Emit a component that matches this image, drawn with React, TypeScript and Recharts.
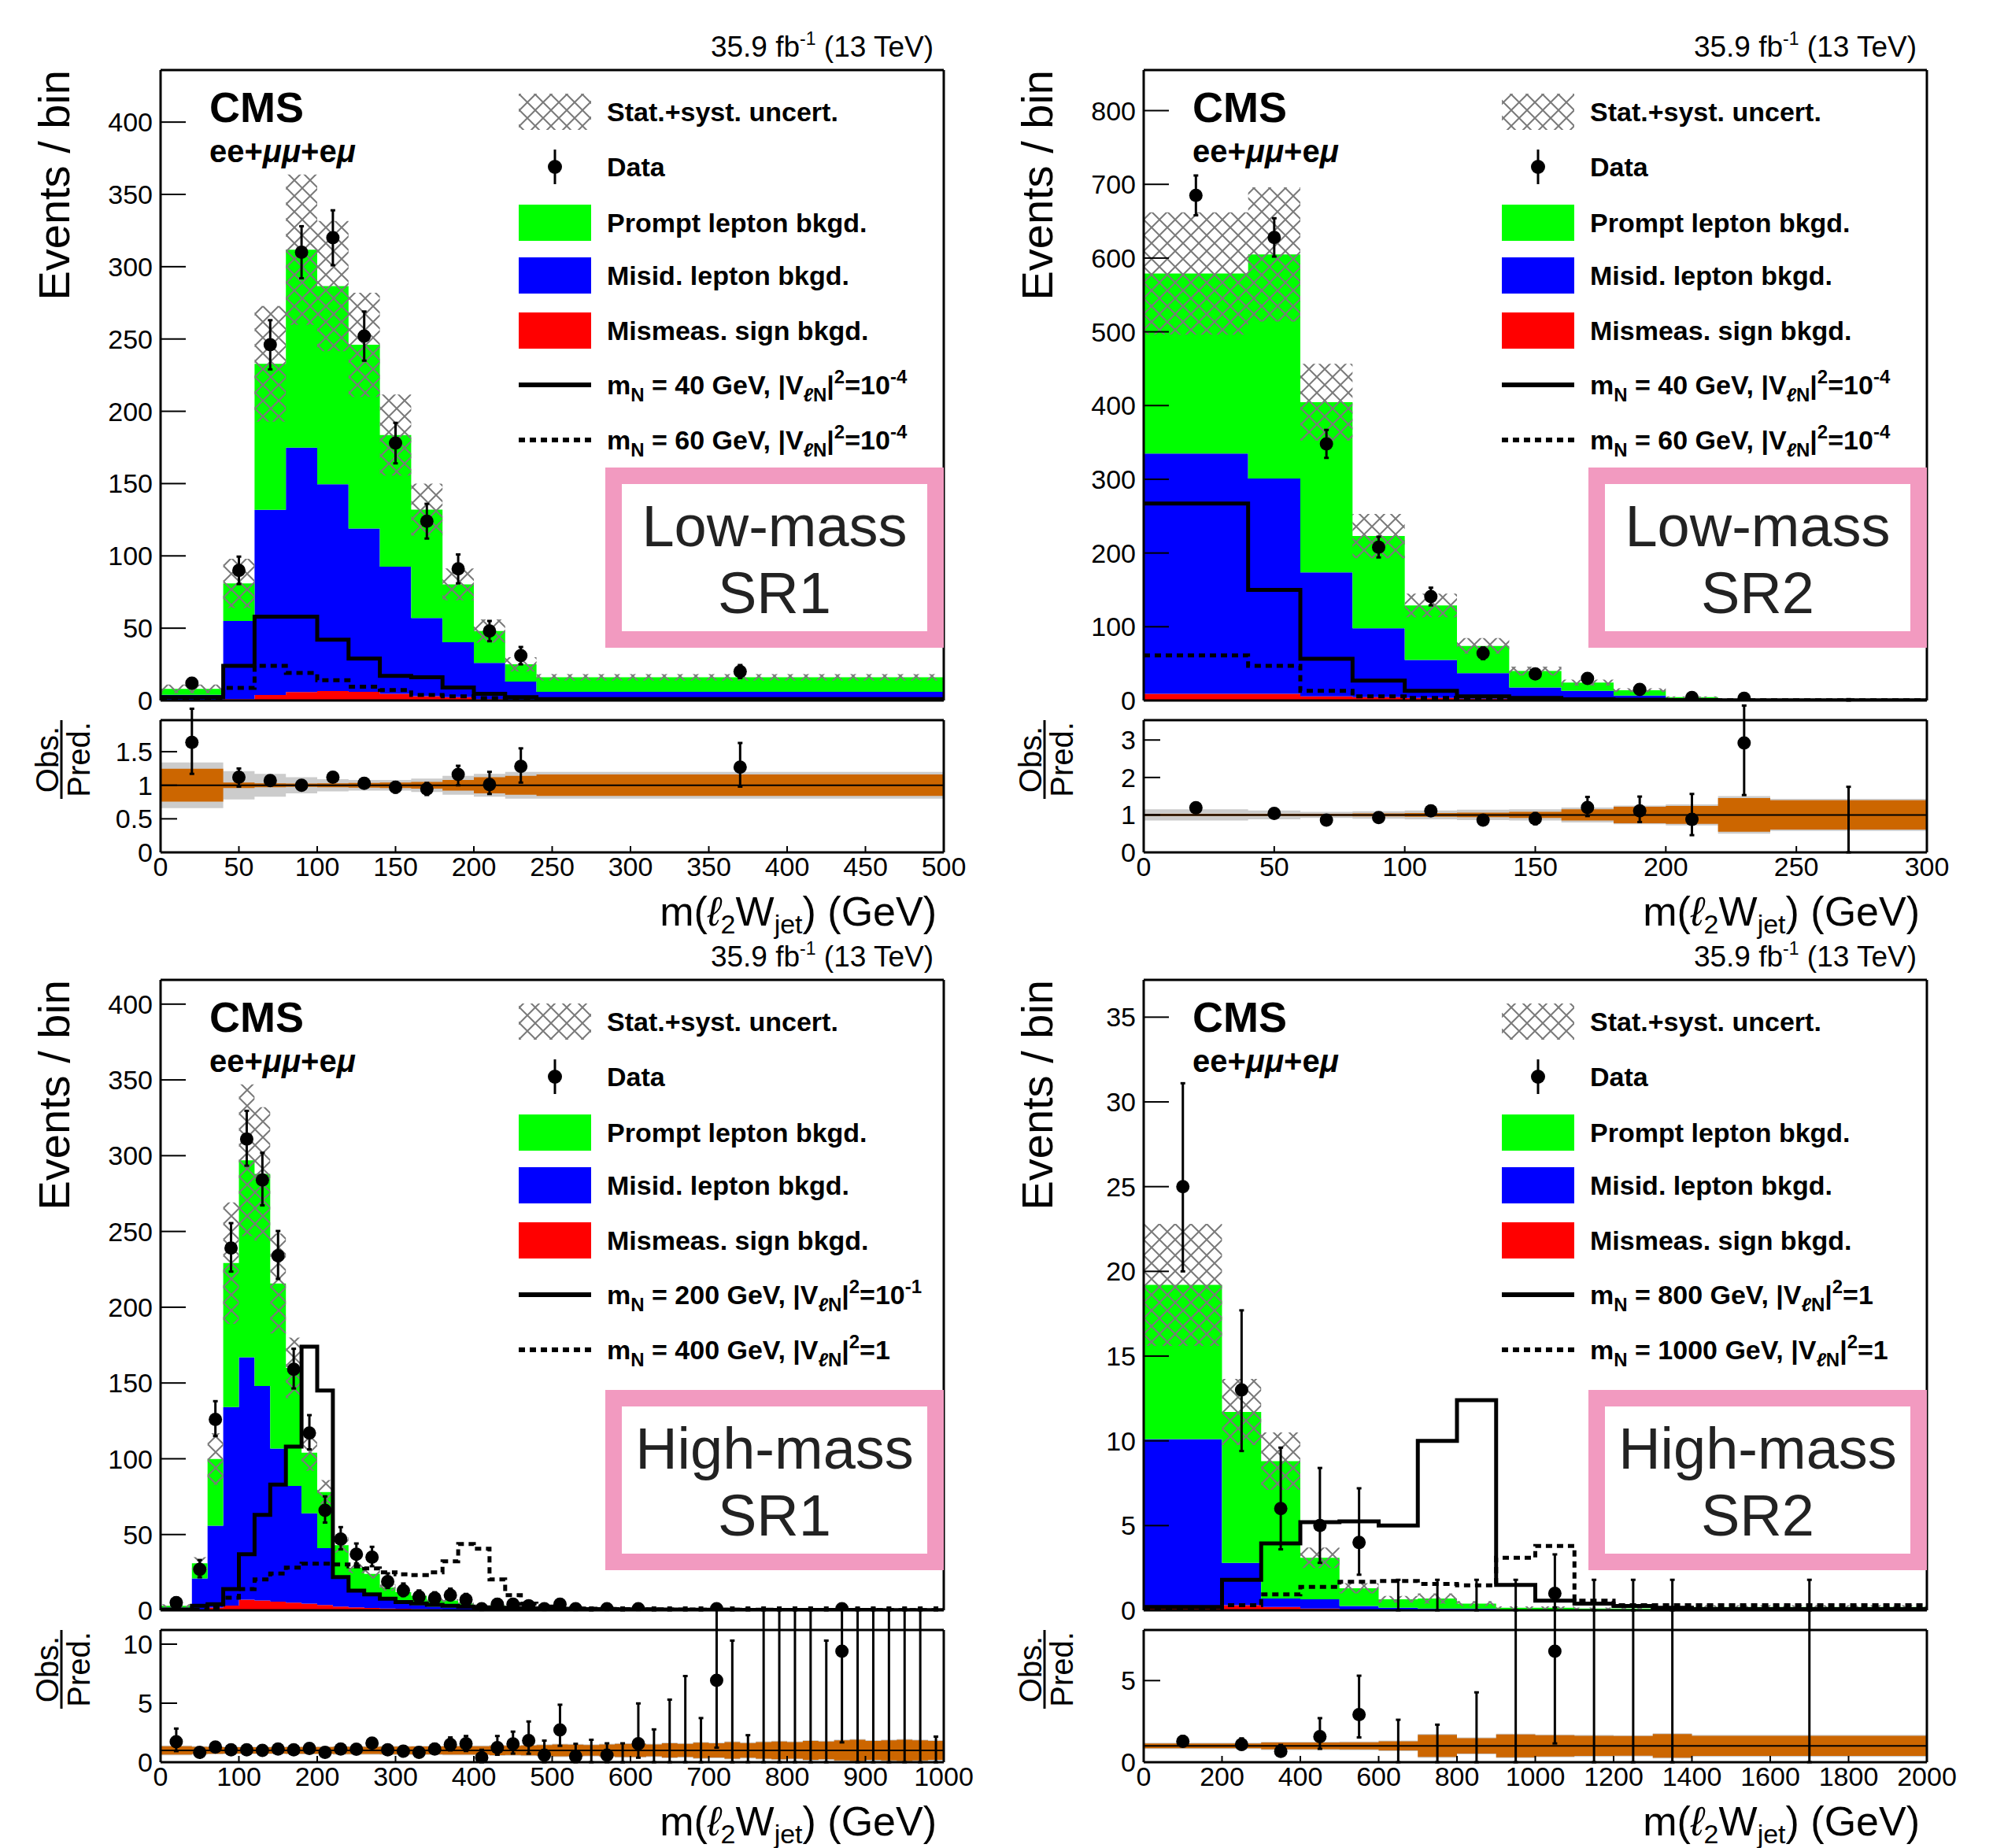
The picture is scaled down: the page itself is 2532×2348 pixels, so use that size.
import React from "react";
import { ComposedChart, Area, Line, Scatter, ErrorBar, XAxis, YAxis, ReferenceLine } from "recharts";

const SANS = "'Liberation Sans', Arial, Helvetica, sans-serif";

// ---------- Low-mass SR1 ----------
const lm1Edges = [0, 40, 60, 80, 100, 120, 140, 160, 180, 200, 220, 240, 500];
const lm1Red = [0.5, 1, 3.8, 5.8, 6.6, 6, 4.6, 3, 2.3, 1, 0.5, 0.5];
const lm1Blue = [3.5, 54, 128, 169, 143, 113, 88, 54, 38, 25, 12.5, 5.5];
const lm1Green = [4, 26, 101, 137, 137, 127, 91, 75, 40, 22, 12, 10];
const lm1Unc = [3, 17, 40, 52, 45, 36, 28, 18, 11, 8, 5, 2.2];
const lm1Sig1 = [2.3, 24, 58, 58, 42, 29, 17, 16, 9, 4.6, 2.3, 1];
const lm1Sig2 = [1, 8.7, 24, 19, 14, 9.5, 7.2, 3.8, 2.9, 1.7, 1, 0.5];
const lm1DataX = [20, 50, 70, 90, 110, 130, 150, 170, 190, 210, 230, 370];
const lm1Data = [12, 90, 246, 310, 320, 252, 178, 124, 91, 48, 31, 20];
const lm1DataErr = [3.5, 9.5, 17, 18, 19, 17, 14, 12, 10, 7, 6, 4.5];
const lm1Ratio = [1.64, 1.12, 1.07, 1.0, 1.12, 1.03, 0.97, 0.945, 1.16, 1.01, 1.28, 1.27];
const lm1RatioLo = [0.47, 0.14, 0.07, 0.06, 0.07, 0.07, 0.08, 0.09, 0.16, 0.14, 0.24, 0.29];
const lm1RatioHi = [0.5, 0.13, 0.07, 0.06, 0.07, 0.07, 0.08, 0.09, 0.13, 0.19, 0.27, 0.36];
const lm1Orange = [0.245, 0.04, 0.03, 0.025, 0.03, 0.035, 0.04, 0.05, 0.08, 0.12, 0.14, 0.16];
const lm1Gray = [0.34, 0.21, 0.17, 0.12, 0.09, 0.08, 0.08, 0.1, 0.14, 0.17, 0.2, 0.2];
const lm1XTicks = [0, 50, 100, 150, 200, 250, 300, 350, 400, 450, 500];
const lm1YTicks = [0, 50, 100, 150, 200, 250, 300, 350, 400];
const lm1RTicks = [0, 0.5, 1, 1.5];

// ---------- Low-mass SR2 ----------
const lm2Edges = [0, 40, 60, 80, 100, 120, 140, 160, 180, 200, 220, 240, 300];
const lm2Red = [9, 9, 5.6, 4.5, 3.4, 2.3, 1, 0.8, 0.5, 0.3, 0.1, 0.1];
const lm2Blue = [326, 292, 168, 93.5, 51.6, 34.7, 16.5, 12.2, 6.3, 2, 0.4, 0.2];
const lm2Green = [244, 304, 231, 125, 74, 37, 22.5, 11.3, 7.2, 2.2, 0.7, 0.5];
const lm2Unc = [83, 91, 52, 30, 16, 10.5, 6, 4, 2.5, 1, 0.5, 0.3];
const lm2Sig1 = [267, 150, 56.5, 27, 13, 5.6, 3.4, 1.7, 1, 0.6, 0.4, 0.3];
const lm2Sig2 = [61, 47, 13, 5.6, 3.4, 2.3, 1.5, 0.8, 0.6, 0.4, 0.3, 0.2];
const lm2DataX = [20, 50, 70, 90, 110, 130, 150, 170, 190, 210, 230, 270];
const lm2Data = [685, 628, 348, 208, 141, 64, 36, 30, 15, 4, 3, 0];
const lm2DataLo = [27, 26, 19, 14, 12, 8, 6, 5.5, 3.8, 1.9, 1.6, 0];
const lm2DataHi = [27, 26, 19, 14, 12, 8, 6, 5.5, 4.9, 3.2, 2.9, 1.8];
const lm2Ratio = [1.19, 1.04, 0.86, 0.93, 1.11, 0.86, 0.9, 1.2, 1.11, 0.88, 2.92, 0];
const lm2RatioLo = [0.05, 0.05, 0.05, 0.07, 0.09, 0.11, 0.15, 0.23, 0.3, 0.42, 1.39, 0];
const lm2RatioHi = [0.05, 0.05, 0.05, 0.07, 0.09, 0.11, 0.15, 0.28, 0.38, 0.68, 1.0, 1.75];
const lm2Orange = [0.03, 0.03, 0.03, 0.04, 0.05, 0.06, 0.08, 0.15, 0.22, 0.24, 0.45, 0.39];
const lm2Gray = [0.15, 0.12, 0.08, 0.1, 0.12, 0.14, 0.15, 0.2, 0.25, 0.28, 0.5, 0.43];
const lm2XTicks = [0, 50, 100, 150, 200, 250, 300];
const lm2YTicks = [0, 100, 200, 300, 400, 500, 600, 700, 800];
const lm2RTicks = [0, 1, 2, 3];

// ---------- High-mass SR1 ----------
const hm1Edges = [0, 40, 60, 80, 100, 120, 140, 160, 180, 200, 220, 240, 260, 280, 300, 320, 340, 360, 380, 400,
  420, 440, 460, 480, 500, 520, 540, 560, 580, 600, 620, 640, 660, 680, 700, 720, 740, 760, 780, 800,
  820, 840, 860, 880, 900, 920, 940, 960, 980, 1000];
const hm1Red = [0.3, 0.5, 1.8, 3.1, 7, 6.5, 5.7, 5, 4.4, 3.5, 2.5, 2, 1.5, 1.2, 1, 0.8, 0.6, 0.5, 0.4, 0.3,
  0.3, 0.25, 0.2, 0.2, 0.15, 0.15, 0.1, 0.1, 0.1, 0.05, 0.05, 0.03, 0.03, 0.03, 0.02, 0.02, 0.03, 0.01, 0.01, 0.01,
  0.01, 0.01, 0.01, 0.01, 0.01, 0.01, 0.01, 0.01, 0.02];
const hm1Blue = [1.5, 20.5, 54, 131, 160, 141.5, 101, 77, 59.6, 37.5, 18.5, 10, 8.1, 5.8, 3.4, 2.7, 1.9, 1.5, 1.2, 0.9,
  0.9, 0.75, 0.5, 0.5, 0.45, 0.65, 0.3, 0.5, 0.35, 0.25, 0.25, 0.12, 0.07, 0.17, 0.04, 0.05, 0.27, 0.03, 0.03, 0.04,
  0.03, 0.06, 0.04, 0.03, 0.04, 0.03, 0.04, 0.03, 0.28];
const hm1Green = [1.2, 10, 44, 95, 130, 140, 109, 78, 40, 37, 22, 16, 14.4, 8, 7.6, 6.1, 4.5, 4.5, 2.9, 1.4,
  2.0, 1.6, 0.9, 1.0, 0.9, 1.2, 0.55, 1.1, 0.65, 0.34, 0.35, 0.19, 0.15, 0.28, 0.08, 0.1, 0.49, 0.06, 0.06, 0.07,
  0.06, 0.1, 0.06, 0.06, 0.07, 0.06, 0.07, 0.06, 0.53];
const hm1Unc = [1, 4, 17, 40, 50, 44, 33, 20, 12, 8, 5, 3.5, 3, 2, 1.5, 1.2, 1, 0.9, 0.7, 0.5,
  0.5, 0.45, 0.35, 0.35, 0.3, 0.4, 0.2, 0.35, 0.25, 0.15, 0.15, 0.1, 0.08, 0.12, 0.05, 0.06, 0.2, 0.04, 0.04, 0.05,
  0.04, 0.06, 0.04, 0.04, 0.05, 0.04, 0.05, 0.04, 0.2];
const hm1Sig1 = [0.5, 3, 4, 14, 37, 63, 83, 108, 174, 145, 22, 13, 10.5, 7.7, 5.5, 4.5, 3.6, 3, 2.5, 2,
  1.7, 1.5, 1.3, 1.1, 1, 0.9, 0.8, 0.75, 0.7, 0.6, 0.55, 0.5, 0.45, 0.4, 0.4, 0.35, 0.3, 0.3, 0.28, 0.25,
  0.25, 0.22, 0.2, 0.2, 0.18, 0.17, 0.15, 0.15, 0.14];
const hm1Sig2 = [0.2, 0.4, 1.8, 8.3, 14, 20.4, 24.3, 28.2, 30.8, 30.8, 30.3, 29, 27.7, 25, 23.8, 23.3, 25, 32.3, 43.7, 40.6,
  20.4, 10, 4.4, 2.5, 1.5, 1.2, 1, 0.9, 0.8, 0.7, 0.6, 0.55, 0.5, 0.45, 0.4, 0.38, 0.35, 0.33, 0.3, 0.28,
  0.26, 0.25, 0.23, 0.22, 0.2, 0.2, 0.19, 0.18, 0.17];
const hm1DataX = [20, 50, 70, 90, 110, 130, 150, 170, 190, 210, 230, 250, 270, 290, 310, 330, 350, 370, 390, 410,
  430, 450, 470, 490, 510, 530, 550, 570, 590, 610, 630, 650, 670, 690, 710, 730, 750, 770, 790, 810,
  830, 850, 870, 890, 910, 930, 950, 970, 990];
const hm1Data = [5, 27, 126, 239, 311, 284, 234, 159, 117, 66, 47, 37, 35, 19, 13, 9, 8, 10, 7, 1,
  4, 4, 3, 1, 4, 1, 0, 1, 0, 1, 0, 0, 0, 0, 1, 0, 0, 0, 0, 0,
  0, 0, 1, 0, 0, 0, 0, 0, 0];
const hm1DataLo = [2.2, 5.2, 11, 15.5, 17.6, 16.8, 15.3, 12.6, 10.8, 8.1, 6.8, 6.1, 5.9, 4.3, 3.6, 2.9, 2.8, 3.1, 2.6, 0.8,
  1.9, 1.9, 1.6, 0.8, 1.9, 0.8, 0, 0.8, 0, 0.8, 0, 0, 0, 0, 0.8, 0, 0, 0, 0, 0,
  0, 0, 0.8, 0, 0, 0, 0, 0, 0];
const hm1DataHi = [3.4, 6.2, 12, 16.5, 18.6, 17.9, 16.3, 13.6, 11.8, 9.2, 7.9, 7.1, 6.9, 5.4, 4.7, 4.1, 3.9, 4.3, 3.8, 2.3,
  3.2, 3.2, 2.9, 2.3, 3.2, 2.3, 1.8, 2.3, 1.8, 2.3, 1.8, 1.8, 1.8, 1.8, 2.3, 1.8, 1.8, 1.8, 1.8, 1.8,
  1.8, 1.8, 2.3, 1.8, 1.8, 1.8, 1.8, 1.8, 1.8];
const hm1Ratio = [1.73, 0.83, 1.28, 1.05, 1.05, 1.0, 1.12, 1.05, 1.17, 0.83, 1.12, 1.1, 1.61, 1.05, 0.94, 0.83, 1.12, 1.5, 1.57, 0.38,
  1.23, 1.55, 1.84, 0.6, 2.74, 0.5, 0, 0.6, 0, 1.57, 0, 0, 0, 0, 6.93, 0, 0, 0, 0, 0,
  0, 0, 9.4, 0, 0, 0, 0, 0, 0];
const hm1RatioLo = [0.79, 0.2, 0.15, 0.1, 0.1, 0.1, 0.1, 0.12, 0.14, 0.14, 0.2, 0.22, 0.3, 0.28, 0.3, 0.3, 0.4, 0.5, 0.62, 0.38,
  0.6, 0.82, 1.12, 0.6, 1.35, 0.5, 0, 0.6, 0, 1.19, 0, 0, 0, 0, 5.7, 0, 0, 0, 0, 0,
  0, 0, 7.72, 0, 0, 0, 0, 0, 0];
const hm1RatioHi = [1.12, 0.2, 0.15, 0.1, 0.1, 0.1, 0.1, 0.12, 0.14, 0.15, 0.2, 0.22, 0.35, 0.3, 0.33, 0.35, 0.45, 0.6, 0.65, 0.67,
  0.99, 1.04, 1.61, 1.23, 2.13, 1.06, 1.9, 1.0, 1.6, 3.41, 2.78, 5.3, 7.3, 3.74, 16, 10.3, 2.29, 13, 13, 13,
  13, 10.3, 20, 13, 13, 13, 13, 13, 2.17];
const hm1Orange = [0.35, 0.3, 0.28, 0.27, 0.27, 0.27, 0.27, 0.28, 0.28, 0.28, 0.3, 0.3, 0.3, 0.32, 0.32, 0.33, 0.33, 0.35, 0.35, 0.35,
  0.4, 0.38, 0.42, 0.45, 0.5, 0.48, 0.45, 0.5, 0.55, 0.55, 0.5, 0.6, 0.55, 0.65, 0.6, 0.7, 0.62, 0.7, 0.75, 0.7,
  0.8, 0.75, 0.85, 0.9, 0.8, 0.85, 0.9, 0.85, 0.8];
const hm1Gray = [0.42, 0.36, 0.33, 0.32, 0.32, 0.32, 0.32, 0.33, 0.34, 0.34, 0.36, 0.36, 0.36, 0.38, 0.38, 0.39, 0.39, 0.41, 0.41, 0.42,
  0.47, 0.45, 0.49, 0.52, 0.57, 0.55, 0.52, 0.57, 0.62, 0.62, 0.57, 0.67, 0.62, 0.72, 0.67, 0.77, 0.69, 0.77, 0.82, 0.77,
  0.87, 0.82, 0.92, 0.97, 0.87, 0.92, 0.97, 0.92, 0.87];
const hm1XTicks = [0, 100, 200, 300, 400, 500, 600, 700, 800, 900, 1000];
const hm1YTicks = [0, 50, 100, 150, 200, 250, 300, 350, 400];
const hm1RTicks = [0, 5, 10];

// ---------- High-mass SR2 ----------
const hm2Edges = [0, 200, 300, 400, 500, 600, 700, 800, 900, 1000, 1100, 1200, 1300, 1400, 2000];
const hm2Red = [0.25, 0.3, 0.2, 0.1, 0.05, 0.03, 0.02, 0.02, 0.01, 0.01, 0.01, 0.01, 0.01, 0.01];
const hm2Blue = [9.85, 2.5, 0.5, 0.55, 0.2, 0.12, 0.08, 0.08, 0.04, 0.04, 0.02, 0.02, 0.02, 0.04];
const hm2Green = [9.1, 8.9, 8.1, 2.45, 1.05, 0.5, 0.6, 0.3, 0.1, 0.1, 0.07, 0.07, 0.07, 0.15];
const hm2Unc = [3.6, 1.95, 1.7, 0.6, 0.3, 0.2, 0.3, 0.15, 0.08, 0.08, 0.06, 0.06, 0.06, 0.1];
const hm2Sig1 = [0.2, 1.8, 3.95, 5.2, 5.25, 5.0, 10.0, 12.4, 1.5, 0.57, 0.4, 0.25, 0.15, 0.07];
const hm2Sig2 = [0.07, 0.3, 0.94, 1.38, 1.68, 1.73, 1.56, 1.48, 3.1, 3.8, 0.57, 0.3, 0.3, 0.3];
const hm2DataX = [100, 250, 350, 450, 550, 650, 750, 850, 950, 1050, 1150, 1250, 1350, 1700];
const hm2Data = [25, 13, 6, 5, 4, 0, 0, 0, 0, 1, 0, 0, 0, 0];
const hm2DataLo = [5, 3.6, 2.4, 2.2, 1.9, 0, 0, 0, 0, 0.83, 0, 0, 0, 0];
const hm2DataHi = [6.1, 4.7, 3.6, 3.4, 3.2, 1.8, 1.8, 1.8, 1.8, 2.3, 1.8, 1.8, 1.8, 1.8];
const hm2Ratio = [1.28, 1.08, 0.66, 1.57, 2.92, 0, 0, 0, 0, 6.8, 0, 0, 0, 0];
const hm2RatioLo = [0.3, 0.3, 0.25, 0.75, 1.4, 0, 0, 0, 0, 5.65, 0, 0, 0, 0];
const hm2RatioHi = [0.32, 0.38, 0.4, 1.13, 2.38, 2.6, 2.3, 4.28, 12, 15, 12, 12, 12, 12];
const hm2Orange = [0.14, 0.14, 0.2, 0.2, 0.22, 0.28, 0.68, 0.47, 0.7, 0.65, 0.62, 0.6, 0.72, 0.62];
const hm2Gray = [0.19, 0.19, 0.25, 0.25, 0.27, 0.33, 0.73, 0.52, 0.75, 0.7, 0.67, 0.65, 0.77, 0.67];
const hm2XTicks = [0, 200, 400, 600, 800, 1000, 1200, 1400, 1600, 1800, 2000];
const hm2YTicks = [0, 5, 10, 15, 20, 25, 30, 35];
const hm2RTicks = [0, 5];

const LEGEND_TEXT = ["Stat.+syst. uncert.", "Data", "Prompt lepton bkgd.", "Misid. lepton bkgd.", "Mismeas. sign bkgd."];

const PANELS = [
  { id: "lm1", dx: 0, dy: 0, boxShift: 0, edges: lm1Edges, red: lm1Red, blue: lm1Blue, green: lm1Green, unc: lm1Unc,
    sig1: lm1Sig1, sig2: lm1Sig2, dataX: lm1DataX, data: lm1Data, dataLo: lm1DataErr, dataHi: lm1DataErr,
    ratio: lm1Ratio, ratioLo: lm1RatioLo, ratioHi: lm1RatioHi, orange: lm1Orange, gray: lm1Gray,
    xMax: 500, xMajor: lm1XTicks, xMinor: 10, yMax: 436, yMajor: lm1YTicks, yMinor: 10,
    rMax: 1.97, rMajor: lm1RTicks, rMinor: 0.1, box: ["Low-mass", "SR1"], sig: [["40", "10", "-4"], ["60", "10", "-4"]] },
  { id: "lm2", dx: 1249, dy: 0, boxShift: 0, edges: lm2Edges, red: lm2Red, blue: lm2Blue, green: lm2Green, unc: lm2Unc,
    sig1: lm2Sig1, sig2: lm2Sig2, dataX: lm2DataX, data: lm2Data, dataLo: lm2DataLo, dataHi: lm2DataHi,
    ratio: lm2Ratio, ratioLo: lm2RatioLo, ratioHi: lm2RatioHi, orange: lm2Orange, gray: lm2Gray,
    xMax: 300, xMajor: lm2XTicks, xMinor: 10, yMax: 855, yMajor: lm2YTicks, yMinor: 20,
    rMax: 3.53, rMajor: lm2RTicks, rMinor: 0.2, box: ["Low-mass", "SR2"], sig: [["40", "10", "-4"], ["60", "10", "-4"]] },
  { id: "hm1", dx: 0, dy: 1156, boxShift: 16, edges: hm1Edges, red: hm1Red, blue: hm1Blue, green: hm1Green, unc: hm1Unc,
    sig1: hm1Sig1, sig2: hm1Sig2, dataX: hm1DataX, data: hm1Data, dataLo: hm1DataLo, dataHi: hm1DataHi,
    ratio: hm1Ratio, ratioLo: hm1RatioLo, ratioHi: hm1RatioHi, orange: hm1Orange, gray: hm1Gray,
    xMax: 1000, xMajor: hm1XTicks, xMinor: 20, yMax: 416, yMajor: hm1YTicks, yMinor: 10,
    rMax: 11.2, rMajor: hm1RTicks, rMinor: 1, box: ["High-mass", "SR1"], sig: [["200", "10", "-1"], ["400", "1", ""]] },
  { id: "hm2", dx: 1249, dy: 1156, boxShift: 16, edges: hm2Edges, red: hm2Red, blue: hm2Blue, green: hm2Green, unc: hm2Unc,
    sig1: hm2Sig1, sig2: hm2Sig2, dataX: hm2DataX, data: hm2Data, dataLo: hm2DataLo, dataHi: hm2DataHi,
    ratio: hm2Ratio, ratioLo: hm2RatioLo, ratioHi: hm2RatioHi, orange: hm2Orange, gray: hm2Gray,
    xMax: 2000, xMajor: hm2XTicks, xMinor: 50, yMax: 37.2, yMajor: hm2YTicks, yMinor: 1,
    rMax: 8.1, rMajor: hm2RTicks, rMinor: 1, box: ["High-mass", "SR2"], sig: [["800", "1", ""], ["1000", "1", ""]] },
];

// plot geometry (page pixels)
const PLOT_X = 204, MAIN_Y = 89, RATIO_Y = 915;
const PLOT_W = 995, MAIN_H = 801, RATIO_H = 168;
const ML = 140, MR = 60, MT = 30, MB = 30, RMB = 70;
const AX = 2; // two 1px axes per side eat into the margin

const steps = (a: number, b: number, s: number) => {
  const out: number[] = [];
  for (let v = a; v <= b + 1e-9; v += s) out.push(Math.round(v * 1000) / 1000);
  return out;
};

function frame(xMax: number, xMajor: number[], xMinor: number, yMax: number, yMajor: number[], yMinor: number,
  xLen: number[], yLen: number[], xLabels: boolean) {
  const xd = [0, xMax];
  const yd = [0, yMax];
  const xm = steps(0, xMax, xMinor);
  const ym = steps(0, yMax, yMinor);
  const axis = { stroke: "#000", strokeWidth: 3 };
  const tl = { stroke: "#000", strokeWidth: 2 };
  const label = { fill: "#000", fontSize: 34, fontFamily: SANS };
  return [
    <XAxis key="xb" xAxisId="x" dataKey="x" type="number" domain={xd} allowDataOverflow ticks={xMajor} interval={0}
      height={1} axisLine={axis} tickLine={tl} tickSize={-xLen[0]} tickMargin={xLen[0] + 6} tick={xLabels ? label : false} />,
    <XAxis key="xb2" xAxisId="xb2" dataKey="x" type="number" domain={xd} allowDataOverflow ticks={xm} interval={0}
      height={1} axisLine={false} tickLine={tl} tickSize={-xLen[1]} tick={false} />,
    <XAxis key="xt" xAxisId="xt" orientation="top" dataKey="x" type="number" domain={xd} allowDataOverflow ticks={xMajor} interval={0}
      height={1} axisLine={axis} tickLine={tl} tickSize={-xLen[0]} tick={false} />,
    <XAxis key="xt2" xAxisId="xt2" orientation="top" dataKey="x" type="number" domain={xd} allowDataOverflow ticks={xm} interval={0}
      height={1} axisLine={false} tickLine={tl} tickSize={-xLen[1]} tick={false} />,
    <YAxis key="yl" yAxisId="y" type="number" domain={yd} allowDataOverflow ticks={yMajor} interval={0}
      width={1} axisLine={axis} tickLine={tl} tickSize={-yLen[0]} tickMargin={yLen[0] + 10} tick={label} />,
    <YAxis key="yl2" yAxisId="yl2" type="number" domain={yd} allowDataOverflow ticks={ym} interval={0}
      width={1} axisLine={false} tickLine={tl} tickSize={-yLen[1]} tick={false} />,
    <YAxis key="yr" yAxisId="yr" orientation="right" type="number" domain={yd} allowDataOverflow ticks={yMajor} interval={0}
      width={1} axisLine={axis} tickLine={tl} tickSize={-yLen[0]} tick={false} />,
    <YAxis key="yr2" yAxisId="yr2" orientation="right" type="number" domain={yd} allowDataOverflow ticks={ym} interval={0}
      width={1} axisLine={false} tickLine={tl} tickSize={-yLen[1]} tick={false} />,
  ];
}

const dot = (props: any) =>
  props.payload && props.payload.y > 0 ? <circle cx={props.cx} cy={props.cy} r={8.5} fill="#000" /> : <g />;

function Panel({ p }: { p: any }) {
  const n = p.red.length;
  const rows = p.edges.map((x: number, i: number) => {
    const k = Math.min(i, n - 1);
    const tot = p.red[k] + p.blue[k] + p.green[k];
    return {
      x,
      red: p.red[k],
      blue: p.blue[k],
      green: p.green[k],
      band: [tot - p.unc[k], tot + p.unc[k]],
      s1: p.sig1[k],
      s2: p.sig2[k],
      gray: [1 - p.gray[k], 1 + p.gray[k]],
      orange: [1 - p.orange[k], 1 + p.orange[k]],
    };
  });
  const pts = p.dataX.map((x: number, i: number) => ({ x, y: p.data[i], e: [p.dataLo[i], p.dataHi[i]] }));
  const rpts = p.dataX.map((x: number, i: number) => ({ x, y: p.ratio[i], e: [p.ratioLo[i], p.ratioHi[i]] }));
  const ids = { xAxisId: "x", yAxisId: "y" };

  return (
    <>
      <div style={{ position: "absolute", left: PLOT_X + p.dx - ML, top: MAIN_Y + p.dy - MT }}>
        <ComposedChart width={PLOT_W + ML + MR} height={MAIN_H + MT + MB} data={rows}
          margin={{ top: MT - AX, right: MR - AX, bottom: MB - AX, left: ML - AX }}>
          {frame(p.xMax, p.xMajor, p.xMinor, p.yMax, p.yMajor, p.yMinor, [22, 11], [32, 17], false)}
          <Area {...ids} type="stepAfter" dataKey="red" stackId="bkg" fill="#ff0000" fillOpacity={1} stroke="none" isAnimationActive={false} />
          <Area {...ids} type="stepAfter" dataKey="blue" stackId="bkg" fill="#0000ff" fillOpacity={1} stroke="none" isAnimationActive={false} />
          <Area {...ids} type="stepAfter" dataKey="green" stackId="bkg" fill="#00ff00" fillOpacity={1} stroke="none" isAnimationActive={false} />
          <Area {...ids} type="stepAfter" dataKey="band" fill="url(#xhatch)" fillOpacity={1} stroke="none" isAnimationActive={false} />
          <Line {...ids} type="stepAfter" dataKey="s1" stroke="#000" strokeWidth={5} dot={false} activeDot={false} isAnimationActive={false} />
          <Line {...ids} type="stepAfter" dataKey="s2" stroke="#000" strokeWidth={5} strokeDasharray="8 6" dot={false} activeDot={false} isAnimationActive={false} />
          <Scatter {...ids} data={pts} dataKey="y" shape={dot} isAnimationActive={false}>
            <ErrorBar dataKey="e" direction="y" width={3} stroke="#000" strokeWidth={3} isAnimationActive={false} />
          </Scatter>
        </ComposedChart>
      </div>
      <div style={{ position: "absolute", left: PLOT_X + p.dx - ML, top: RATIO_Y + p.dy - MT }}>
        <ComposedChart width={PLOT_W + ML + MR} height={RATIO_H + MT + RMB} data={rows}
          margin={{ top: MT - AX, right: MR - AX, bottom: RMB - AX, left: ML - AX }}>
          {frame(p.xMax, p.xMajor, p.xMinor, p.rMax, p.rMajor, p.rMinor, [8, 4], [21, 12], true)}
          <Area {...ids} type="stepAfter" dataKey="gray" fill="#cccccc" fillOpacity={1} stroke="none" isAnimationActive={false} />
          <Area {...ids} type="stepAfter" dataKey="orange" fill="#cc6600" fillOpacity={1} stroke="none" isAnimationActive={false} />
          <ReferenceLine {...ids} y={1} stroke="#000" strokeWidth={2} />
          <Scatter {...ids} data={rpts} dataKey="y" shape={dot} isAnimationActive={false}>
            <ErrorBar dataKey="e" direction="y" width={3} stroke="#000" strokeWidth={3} isAnimationActive={false} />
          </Scatter>
        </ComposedChart>
      </div>
    </>
  );
}

function SigLabel({ x, y, s }: { x: number; y: number; s: string[] }) {
  return (
    <text x={x} y={y} fontSize={34} fontWeight="bold" fontFamily={SANS}>
      m<tspan dy={9} fontSize={24}>N</tspan>
      <tspan dy={-9}>{` = ${s[0]} GeV,  |V`}</tspan>
      <tspan dy={9} fontSize={24} fontStyle="italic">ℓ</tspan>
      <tspan fontSize={24}>N</tspan>
      <tspan dy={-9}>|</tspan>
      <tspan dy={-14} fontSize={24}>2</tspan>
      <tspan dy={14}>{`=${s[1]}`}</tspan>
      {s[2] ? <tspan dy={-14} fontSize={24}>{s[2]}</tspan> : null}
    </text>
  );
}

function PanelText({ p }: { p: any }) {
  const dx = p.dx, dy = p.dy;
  const rows = [142, 212, 283, 350, 420, 489, 559].map((v) => v + dy);
  const sx = 659 + dx, sw = 92, tx = 771 + dx;
  const boxY = 594 + dy + p.boxShift;
  const fills = ["url(#xhatch)", "", "#00ff00", "#0000ff", "#ff0000"];
  return (
    <g fontFamily={SANS} fill="#000">
      <text x={1186 + dx} y={72 + dy} textAnchor="end" fontSize={37}>
        35.9 fb<tspan dy={-15} fontSize={23}>-1</tspan><tspan dy={15}> (13 TeV)</tspan>
      </text>
      <text transform={`translate(${88 + dx},${MAIN_Y + dy}) rotate(-90)`} textAnchor="end" fontSize={56}>Events / bin</text>
      <g transform={`translate(${78 + dx},${965 + dy}) rotate(-90)`}>
        <text x={0} y={-4} textAnchor="middle" fontSize={40}>Obs.</text>
        <line x1={-50} x2={50} y1={0} y2={0} stroke="#000" strokeWidth={3} />
        <text x={0} y={36} textAnchor="middle" fontSize={40}>Pred.</text>
      </g>
      <text x={1190 + dx} y={1176 + dy} textAnchor="end" fontSize={52}>
        m(<tspan fontStyle="italic">ℓ</tspan><tspan dy={10} fontSize={34}>2</tspan>
        <tspan dy={-10}>W</tspan><tspan dy={10} fontSize={34}>jet</tspan><tspan dy={-10}>) (GeV)</tspan>
      </text>
      <text x={266 + dx} y={155 + dy} fontSize={54} fontWeight="bold">CMS</text>
      <text x={266 + dx} y={206 + dy} fontSize={40} fontWeight="bold">
        ee+<tspan fontStyle="italic">μμ</tspan>+e<tspan fontStyle="italic">μ</tspan>
      </text>
      {fills.map((f, i) =>
        f ? <rect key={i} x={sx} y={rows[i] - 23} width={sw} height={46} fill={f} /> : null
      )}
      <line x1={sx + sw / 2} x2={sx + sw / 2} y1={rows[1] - 22} y2={rows[1] + 22} stroke="#000" strokeWidth={3} />
      <circle cx={sx + sw / 2} cy={rows[1]} r={9} fill="#000" />
      <line x1={sx} x2={sx + sw} y1={rows[5]} y2={rows[5]} stroke="#000" strokeWidth={6} />
      <line x1={sx} x2={sx + sw} y1={rows[6]} y2={rows[6]} stroke="#000" strokeWidth={6} strokeDasharray="8 6" />
      {LEGEND_TEXT.map((t, i) => (
        <text key={t} x={tx} y={rows[i] + 12} fontSize={34} fontWeight="bold">{t}</text>
      ))}
      <SigLabel x={tx} y={rows[5] + 12} s={p.sig[0]} />
      <SigLabel x={tx} y={rows[6] + 12} s={p.sig[1]} />
      <rect x={779.5 + dx} y={boxY + 10.5} width={409} height={208} fill="#fff" stroke="#f29ac0" strokeWidth={21} />
      <text x={984 + dx} y={boxY + 100} textAnchor="middle" fontSize={74} fill="#222">{p.box[0]}</text>
      <text x={984 + dx} y={boxY + 185} textAnchor="middle" fontSize={74} fill="#222">{p.box[1]}</text>
    </g>
  );
}

export default function App() {
  return (
    <div style={{ position: "absolute", left: 0, top: 0, width: 2532, height: 2348, background: "#fff", overflow: "hidden" }}>
      <svg width={0} height={0} style={{ position: "absolute" }}>
        <defs>
          <pattern id="xhatch" width={20} height={20} patternUnits="userSpaceOnUse">
            <path d="M0,0L20,20M20,0L0,20" stroke="#7a7a7a" strokeWidth={2} fill="none" />
          </pattern>
        </defs>
      </svg>
      {PANELS.map((p) => <Panel key={p.id} p={p} />)}
      <svg width={2532} height={2348} style={{ position: "absolute", left: 0, top: 0, pointerEvents: "none" }}>
        {PANELS.map((p) => <PanelText key={p.id} p={p} />)}
      </svg>
    </div>
  );
}
